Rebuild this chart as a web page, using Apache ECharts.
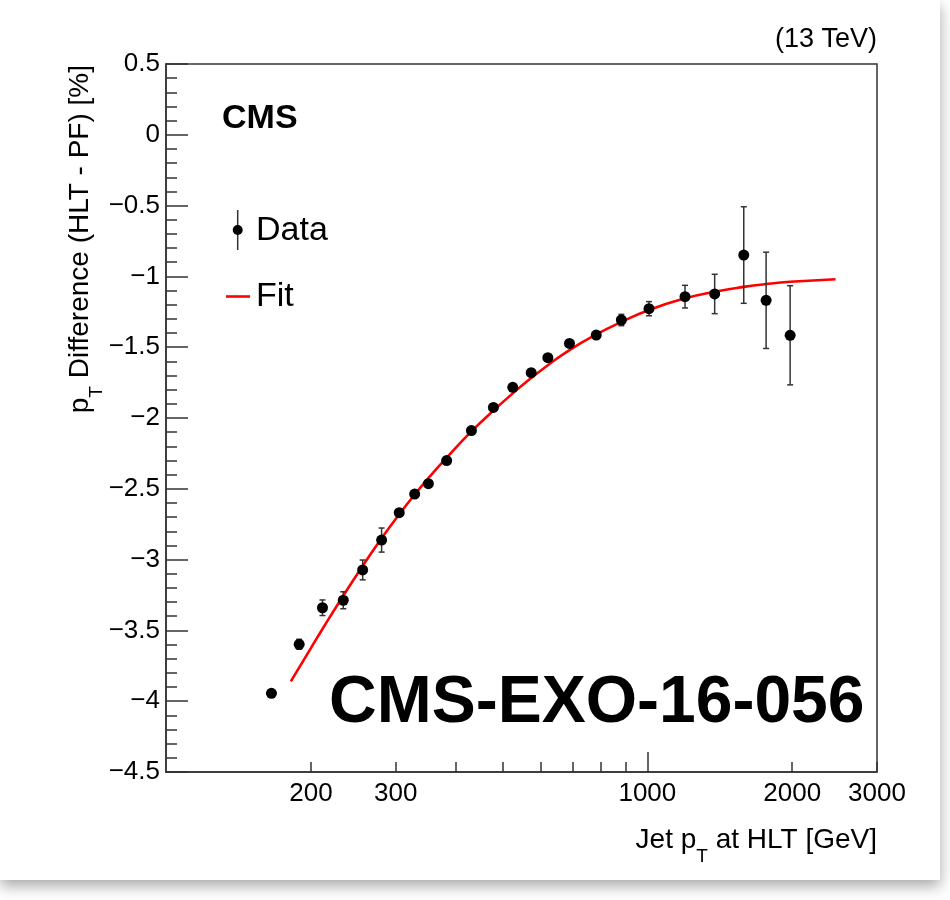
<!DOCTYPE html>
<html>
<head>
<meta charset="utf-8">
<script src="https://cdn.jsdelivr.net/npm/echarts@6/dist/echarts.min.js"></script>
<style>
  html, body { margin: 0; padding: 0; background: #ffffff; }
  #frame { position: absolute; left: 0; top: 0; width: 940px; height: 880px; background: #fff;
           box-shadow: 0 6px 14px rgba(0,0,0,0.35); }
  #chart { position: absolute; left: 0; top: 0; width: 950px; height: 900px; }
</style>
</head>
<body>
<div id="frame"></div>
<div id="chart"></div>
<script>
// ---- data ----
const dataPt  = [165.6, 189.1, 211.4, 233.5, 256.2, 280.5, 305.2, 328.6, 350.8, 382.9, 431.0, 478.8,
                 525.3, 573.7, 621.3, 689.0, 783.2, 883.1, 1008, 1197.5, 1380, 1586, 1765, 1980];
const dataVal = [-3.944, -3.598, -3.340, -3.287, -3.073, -2.862, -2.669, -2.537, -2.464, -2.301, -2.089, -1.925,
                 -1.783, -1.680, -1.574, -1.473, -1.414, -1.308, -1.228, -1.143, -1.124, -0.849, -1.169, -1.416];
const dataErr = [0.02, 0.035, 0.055, 0.06, 0.07, 0.085, 0.02, 0.02, 0.02, 0.02, 0.02, 0.02,
                 0.02, 0.02, 0.02, 0.02, 0.025, 0.04, 0.05, 0.08, 0.139, 0.341, 0.34, 0.35];
const fitPt   = [181.7, 200, 211.4, 233.5, 256.2, 280.5, 305.2, 328.6, 350.8, 382.9, 431.0, 478.8,
                 525.3, 573.7, 621.3, 689.0, 783.2, 883.1, 1008, 1197.5, 1380, 1586, 1765, 1980, 2460];
const fitVal  = [-3.86, -3.625, -3.49, -3.255, -3.045, -2.85, -2.68, -2.54, -2.425, -2.28, -2.095, -1.948,
                 -1.826, -1.718, -1.627, -1.52, -1.41, -1.322, -1.237, -1.155, -1.108, -1.074, -1.054, -1.038, -1.020];
const xLabelValues = [200, 300, 1000, 2000, 3000];
const xMinorTicks  = [200, 300, 400, 500, 600, 700, 800, 900, 2000, 3000];
const xMajorTicks  = [1000];

const FONT = '"Liberation Sans", Arial, Helvetica, sans-serif';
const AX = '#333';

const chart = echarts.init(document.getElementById('chart'), null, { renderer: 'canvas' });

const points = dataPt.map((x, i) => [x, dataVal[i], dataErr[i]]);
const fit = fitPt.map((x, i) => [x, fitVal[i]]);

const option = {
  backgroundColor: 'transparent',
  animation: false,
  grid: { left: 166, right: 73, top: 64, bottom: 128, show: true, borderColor: AX, borderWidth: 1.5, backgroundColor: 'transparent' },
  xAxis: [
    {
      type: 'log', logBase: 10, min: 100, max: 3000, gridIndex: 0, position: 'bottom',
      axisLine: { show: true, onZero: false, lineStyle: { color: AX, width: 1.5 } },
      axisTick: { show: true, inside: true, length: 10, customValues: xMinorTicks, lineStyle: { color: AX, width: 1.5 } },
      axisLabel: { show: true, customValues: xLabelValues, margin: 9, fontSize: 26, fontFamily: FONT, color: '#000',
                   formatter: v => String(Math.round(v)) },
      splitLine: { show: false }, minorTick: { show: false }, minorSplitLine: { show: false }
    },
    {
      type: 'log', logBase: 10, min: 100, max: 3000, gridIndex: 0, position: 'bottom',
      axisLine: { show: false, onZero: false },
      axisTick: { show: true, inside: true, length: 20, customValues: xMajorTicks, lineStyle: { color: AX, width: 1.5 } },
      axisLabel: { show: false },
      splitLine: { show: false }
    }
  ],
  yAxis: {
    type: 'value', min: -4.5, max: 0.5, interval: 0.5, position: 'left',
    axisLine: { show: true, onZero: false, lineStyle: { color: AX, width: 1.5 } },
    axisTick: { show: true, inside: true, length: 22, lineStyle: { color: AX, width: 1.5 } },
    minorTick: { show: true, splitNumber: 5, length: 11, lineStyle: { color: AX, width: 1.5 } },
    axisLabel: { margin: 6, fontSize: 26, fontFamily: FONT, color: '#000',
                 formatter: v => (v < 0 ? '\u2212' : '') + String(Math.abs(Math.round(v * 10) / 10)) },
    splitLine: { show: false }, minorSplitLine: { show: false }
  },
  series: [
    {
      type: 'line', name: 'Fit', data: fit, smooth: true, showSymbol: false, symbol: 'none',
      lineStyle: { color: '#ff0000', width: 2.6 }, z: 3
    },
    {
      type: 'custom', name: 'err', data: points, z: 4,
      encode: { x: 0, y: 1 },
      renderItem: function (params, api) {
        const x = api.value(0), y = api.value(1), e = api.value(2);
        const t = api.coord([x, y + e]);
        const b = api.coord([x, y - e]);
        const st = { stroke: '#333', lineWidth: 1.5 };
        const c = 3;
        return {
          type: 'group',
          children: [
            { type: 'line', shape: { x1: t[0], y1: t[1], x2: b[0], y2: b[1] }, style: st },
            { type: 'line', shape: { x1: t[0] - c, y1: t[1], x2: t[0] + c, y2: t[1] }, style: st },
            { type: 'line', shape: { x1: b[0] - c, y1: b[1], x2: b[0] + c, y2: b[1] }, style: st }
          ]
        };
      }
    },
    {
      type: 'scatter', name: 'Data', data: points.map(p => [p[0], p[1]]), symbol: 'circle', symbolSize: 11,
      itemStyle: { color: '#000', opacity: 1 }, z: 5
    }
  ],
  graphic: [
    { type: 'text', x: 877, y: 40, style: { text: '(13 TeV)', font: '27px ' + FONT, fill: '#000', align: 'right', verticalAlign: 'middle' } },
    { type: 'text', x: 222, y: 119, style: { text: 'CMS', font: 'bold 34px ' + FONT, fill: '#000', verticalAlign: 'middle' } },
    // legend
    { type: 'line', shape: { x1: 237.7, y1: 210, x2: 237.7, y2: 250 }, style: { stroke: '#333', lineWidth: 1.5 } },
    { type: 'circle', shape: { cx: 237.7, cy: 230, r: 5 }, style: { fill: '#000' } },
    { type: 'text', x: 256, y: 231, style: { text: 'Data', font: '34px ' + FONT, fill: '#000', verticalAlign: 'middle' } },
    { type: 'line', shape: { x1: 226, y1: 296.5, x2: 250, y2: 296.5 }, style: { stroke: '#ff0000', lineWidth: 2.6 } },
    { type: 'text', x: 256, y: 297, style: { text: 'Fit', font: '34px ' + FONT, fill: '#000', verticalAlign: 'middle' } },
    // big label
    { type: 'text', x: 329, y: 704, style: { text: 'CMS-EXO-16-056', font: 'bold 66px ' + FONT, fill: '#000', verticalAlign: 'middle' } },
    // x axis title
    { type: 'text', x: 877, y: 840, style: {
        text: 'Jet p{sub|T} at HLT [GeV]', align: 'right', verticalAlign: 'middle',
        font: '28px ' + FONT, fill: '#000',
        rich: { sub: { fontSize: 19, fontFamily: FONT, lineHeight: 20, padding: [34, 0, 0, 0], fill: '#000' } }
    } },
    // y axis title
    { type: 'text', x: 80, y: 65, rotation: Math.PI / 2, style: {
        text: 'p{sub|T} Difference (HLT - PF) [%]', align: 'right', verticalAlign: 'middle',
        font: '28px ' + FONT, fill: '#000',
        rich: { sub: { fontSize: 19, fontFamily: FONT, lineHeight: 20, padding: [34, 0, 0, 0], fill: '#000' } }
    } }
  ]
};
chart.setOption(option);
</script>
</body>
</html>
